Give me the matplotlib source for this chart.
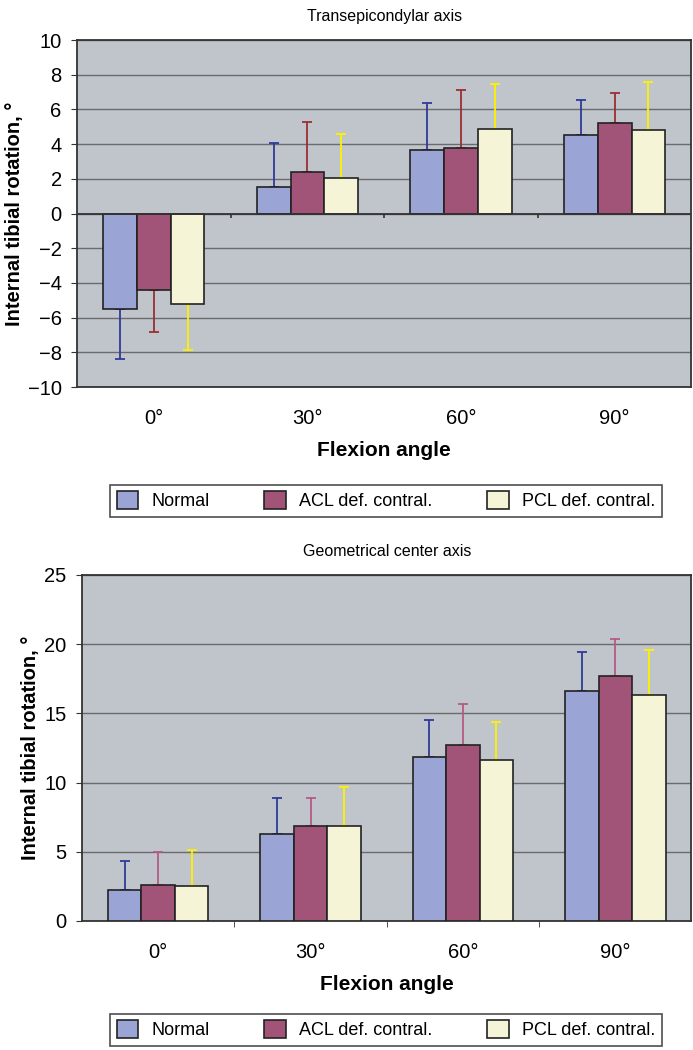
import numpy as np
import matplotlib
matplotlib.use('Agg')
import matplotlib.pyplot as plt
from matplotlib.patches import Patch

plt.rcParams['font.family'] = ['Liberation Sans', 'DejaVu Sans']

angles = ['0°', '30°', '60°', '90°']
groups = ['Normal', 'ACL def. contral.', 'PCL def. contral.']

trans_normal = [-5.5, 1.5, 3.66, 4.54]
trans_acl = [-4.43, 2.38, 3.75, 5.19]
trans_pcl = [-5.19, 2.07, 4.87, 4.81]
trans_normal_sd = [2.91, 2.55, 2.72, 2.01]
trans_acl_sd = [2.41, 2.91, 3.34, 1.78]
trans_pcl_sd = [2.68, 2.53, 2.62, 2.76]

# Geometrical center axis
geo_normal = [2.22, 6.29, 11.86, 16.63]
geo_acl = [2.63, 6.84, 12.70, 17.71]
geo_pcl = [2.53, 6.84, 11.61, 16.31]
geo_normal_sd = [2.09, 2.58, 2.69, 2.77]
geo_acl_sd = [2.38, 2.03, 3.01, 2.63]
geo_pcl_sd = [2.63, 2.85, 2.78, 3.26]

fill_colors = ['#9aa5d5', '#a25478', '#f5f4d6']
bg = '#c0c4cb'


def draw_panel(ax, means, sds, err_colors, title, ylim, yticks):
    x = np.arange(len(angles))
    w = 0.22
    for i, (m, s) in enumerate(zip(means, sds)):
        m = np.array(m)
        s = np.array(s)
        pos = x + (i - 1) * w
        lower = np.where(m < 0, s, 0)
        upper = np.where(m >= 0, s, 0)
        ax.bar(pos, m, w, color=fill_colors[i], edgecolor='#222222',
               linewidth=1.2, zorder=3)
        ax.errorbar(pos, m, yerr=[lower, upper], fmt='none',
                    ecolor=err_colors[i], elinewidth=1.3, capsize=3.6,
                    capthick=1.3, zorder=2)
    ax.set_facecolor(bg)
    ax.set_xlim(-0.5, len(angles) - 0.5)
    ax.set_ylim(*ylim)
    ax.set_yticks(yticks)
    ax.set_yticklabels([str(t).replace('-', '\u2212') for t in yticks])
    ax.yaxis.grid(True, color='#6b6b6b', linewidth=1.0, zorder=1)
    ax.set_axisbelow(True)
    ax.set_xticks(x)
    ax.set_xticklabels(angles)
    ax.tick_params(axis='x', length=0, pad=16, labelsize=14.5)
    ax.set_xticks(x[:-1] + 0.5, minor=True)
    ax.tick_params(axis='x', which='minor', length=4, color='#333333')
    ax.tick_params(axis='y', length=4, pad=7, labelsize=14.5, color='#333333')
    for sp in ax.spines.values():
        sp.set_color('#333333')
        sp.set_linewidth(1.3)
    ax.set_title(title, fontsize=11.5, pad=14)
    ax.set_xlabel('Flexion angle', fontsize=15, fontweight='bold', labelpad=9)
    ax.set_ylabel('Internal tibial rotation, °', fontsize=14.5,
                  fontweight='bold', labelpad=3)


fig = plt.figure(figsize=(6.93, 10.5), dpi=100)

ax1 = fig.add_axes([0.1111, 0.6314, 0.8867, 0.3305])
draw_panel(ax1, [trans_normal, trans_acl, trans_pcl],
           [trans_normal_sd, trans_acl_sd, trans_pcl_sd],
           ['#2f3a99', '#9a2f30', '#fff200'],
           'Transepicondylar axis', (-10, 10), list(range(-10, 11, 2)))
ax1.axhline(0, color='#333333', linewidth=1.3, zorder=4)
ax1.tick_params(axis='x', which='minor', length=0)
ax1.vlines(np.arange(len(angles) - 1) + 0.5, -0.25, 0, color='#333333',
           linewidth=1.2, zorder=4)

ax2 = fig.add_axes([0.1183, 0.1229, 0.8795, 0.3295])
draw_panel(ax2, [geo_normal, geo_acl, geo_pcl],
           [geo_normal_sd, geo_acl_sd, geo_pcl_sd],
           ['#2f3a99', '#b45b85', '#fff200'],
           'Geometrical center axis', (0, 25), list(range(0, 26, 5)))

handles = [Patch(facecolor=c, edgecolor='#222222', linewidth=1.2)
           for c in fill_colors]
for yc in (0.5233, 0.0195):
    leg = fig.legend(handles, groups, loc='center', bbox_to_anchor=(0.557, yc),
                     ncol=3, fontsize=13, frameon=True, fancybox=False,
                     edgecolor='#222222', handlelength=1.2, handleheight=1.2,
                     columnspacing=3.0, handletextpad=0.75, borderpad=0.35)
    leg.get_frame().set_linewidth(1.2)

fig.savefig('out.png', dpi=100)
